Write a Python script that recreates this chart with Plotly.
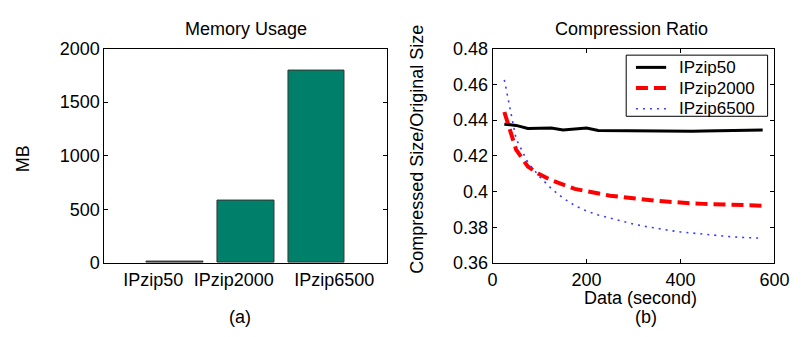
import plotly.graph_objects as go

# Memory usage per configuration (MB)
configs = ["IPzip50", "IPzip2000", "IPzip6500"]
memory_mb = [15, 580, 1792]

# Compression ratio vs amount of data (seconds)
seconds = [25, 50, 75, 100, 125, 150, 175, 200, 225, 250, 275, 300,
           325, 350, 375, 400, 425, 450, 475, 500, 525, 550, 575]
ratio_ipzip50 = [0.4377, 0.4370, 0.4353, 0.4354, 0.4355, 0.4345, 0.4349, 0.4355,
                 0.4342, 0.4341, 0.4340, 0.4341, 0.4340, 0.4339, 0.4338, 0.4337,
                 0.4337, 0.4339, 0.4340, 0.4339, 0.4341, 0.4343, 0.4345]
ratio_ipzip2000 = [0.4445, 0.4235, 0.4140, 0.4096, 0.4063, 0.4036, 0.4015, 0.4002,
                   0.3989, 0.3977, 0.3969, 0.3961, 0.3954, 0.3948, 0.3943, 0.3937,
                   0.3934, 0.3931, 0.3928, 0.3925, 0.3923, 0.3922, 0.3921]
ratio_ipzip6500 = [0.4625, 0.4295, 0.4163, 0.4083, 0.4017, 0.3963, 0.3922, 0.3891,
                   0.3869, 0.3851, 0.3835, 0.3818, 0.3805, 0.3793, 0.3783, 0.3774,
                   0.3767, 0.3760, 0.3754, 0.3749, 0.3744, 0.3741, 0.3739]

W, H = 806, 337
FONT = "Liberation Sans, Arial, sans-serif"
FS = 18


def px_x(x):
    return x / W


def px_y(y):
    return 1 - y / H


series = [
    ("IPzip50", ratio_ipzip50, dict(color="black", width=3)),
    ("IPzip2000", ratio_ipzip2000, dict(color="#ff0000", width=4, dash="12px,6px")),
    ("IPzip6500", ratio_ipzip6500, dict(color="#3b3bff", width=1.6, dash="2px,5px")),
]

fig = go.Figure()

fig.add_trace(go.Bar(
    x=[1, 2, 3], y=memory_mb, width=0.8,
    marker=dict(color="#00806a", line=dict(color="#333333", width=1)),
    showlegend=False, xaxis="x", yaxis="y",
))

for name, vals, style in series:
    fig.add_trace(go.Scatter(
        x=seconds, y=vals, mode="lines", name=name, line=style,
        showlegend=False, xaxis="x2", yaxis="y2",
    ))

axis_common = dict(
    showline=True, linecolor="black", linewidth=1, mirror="ticks",
    ticks="inside", ticklen=4, tickcolor="black", showgrid=False, zeroline=False,
    tickfont=dict(family=FONT, size=FS, color="black"),
)

y_dom = [px_y(269), px_y(41)]

# category label centres along the bar axis
label_pos = [0.69, 1.83, 3.25]

fig.update_layout(
    width=W, height=H,
    margin=dict(l=0, r=0, t=0, b=0),
    paper_bgcolor="white", plot_bgcolor="white",
    font=dict(family=FONT, size=FS, color="black"),
    bargap=0,
    xaxis=dict(axis_common, domain=[px_x(102), px_x(392)], range=[0, 4],
               tickvals=label_pos, ticktext=configs, ticks="", anchor="y"),
    yaxis=dict(axis_common, domain=y_dom, range=[0, 2000],
               tickvals=[0, 500, 1000, 1500, 2000], anchor="x"),
    xaxis2=dict(axis_common, domain=[px_x(500), px_x(789)], range=[0, 600],
                tickvals=[0, 200, 400, 600], anchor="y2"),
    yaxis2=dict(axis_common, domain=y_dom, range=[0.36, 0.48],
                tickvals=[0.36, 0.38, 0.40, 0.42, 0.44, 0.46, 0.48],
                ticktext=["0.36", "0.38", "0.4", "0.42", "0.44", "0.46", "0.48"],
                anchor="x2"),
)

# Legend box for the compression-ratio panel
box_l, box_t, box_r, box_b = 637, 48, 782, 113
fig.add_shape(type="rect", xref="paper", yref="paper",
              x0=px_x(box_l), x1=px_x(box_r), y0=px_y(box_b), y1=px_y(box_t),
              line=dict(color="black", width=1), fillcolor="white", layer="above")
row_y = [61, 83, 105]
for (name, _, style), ry in zip(series, row_y):
    fig.add_shape(type="line", xref="paper", yref="paper",
                  x0=px_x(647), x1=px_x(678), y0=px_y(ry), y1=px_y(ry),
                  line=style, layer="above")
    fig.add_annotation(text=name, x=px_x(689), y=px_y(ry), xref="paper", yref="paper",
                       xanchor="left", yanchor="middle", showarrow=False,
                       font=dict(family=FONT, size=17, color="black"))

texts = [
    ("Memory Usage", 247, 20, 0),
    ("(a)", 241, 326, 0),
    ("Compression Ratio", 642, 20, 0),
    ("Data (second)", 652, 306, 0),
    ("(b)", 657, 326, 0),
    ("MB", 18, 158, -90),
    ("Compressed Size/Original Size", 423, 148, -90),
]
for txt, x, y, ang in texts:
    fig.add_annotation(
        text=txt, x=px_x(x), y=px_y(y), xref="paper", yref="paper",
        xanchor="center", yanchor="middle", showarrow=False, textangle=ang,
        font=dict(family=FONT, size=FS, color="black"),
    )

fig.write_html("out.html")
